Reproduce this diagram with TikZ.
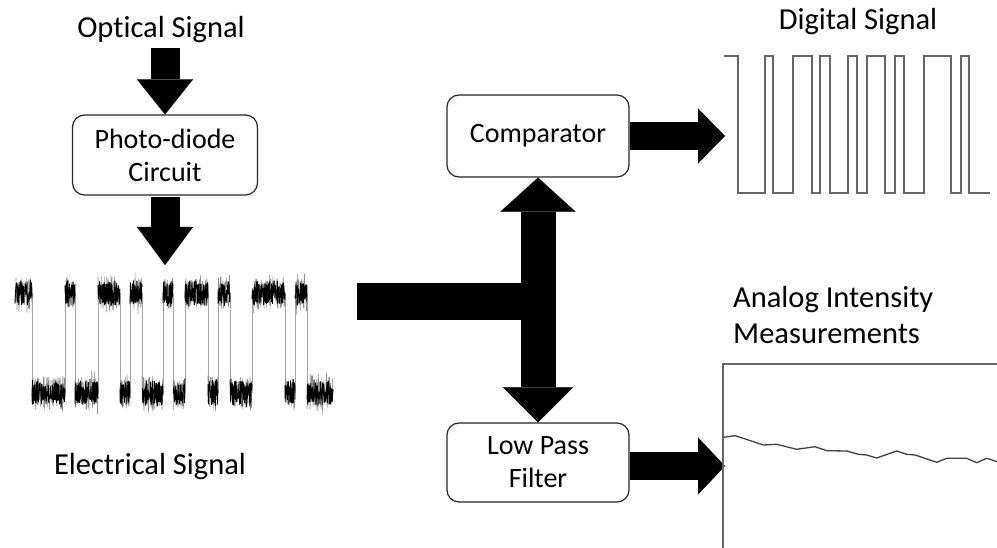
\documentclass[tikz,border=0pt]{standalone}
\usepackage{fontspec}
\setmainfont[Ligatures=NoCommon]{Carlito}
\usetikzlibrary{arrows.meta,calc}
\newcommand\noiseseg[3]{%
  \pgfmathtruncatemacro\nsamp{4*(#2-#1)+2}%
  \draw[noisyhalo] plot[domain=#1:#2,samples=\nsamp] (\x,{#3+16*rand+14*rand*rand*rand});
  \draw[noisy] plot[domain=#1:#2,samples=\nsamp] (\x,{#3+12*rand+6*rand*rand*rand});}
\begin{document}
\begin{tikzpicture}[x=1pt,y=-1pt,
  box/.style={draw=black!85,line width=1.2pt,rounded corners=12pt,fill=white,align=center,
    font=\fontsize{28}{33}\selectfont,inner sep=0pt},
  lbl/.style={font=\fontsize{30.5}{36}\selectfont,inner sep=0pt},
  barrow/.style n args={4}{draw=black,line width=#1,line cap=butt,
    -{Triangle[length=#2,width=#3,line width=0.1pt]}},
  noisy/.style={black,line width=0.9pt,line join=round},
  noisyhalo/.style={black!45,line width=0.6pt,line join=round},
  trans/.style={black!35,line width=1pt},
  digital/.style={black!60,line width=1.5pt},
  frame/.style={black!60,line width=1.5pt},
  analog/.style={black!75,line width=1.3pt,line join=round}]
\useasboundingbox (0,0) rectangle (997,548);
\pgfmathsetseed{11}

% labels
\node[lbl] (opt) at (161,30) {Optical Signal};
\node[lbl] (elab) at (150,467) {Electrical Signal};
\node[lbl] (dlab) at (858,22) {Digital Signal};
\node[lbl,anchor=west,align=left,font=\fontsize{30.5}{36}\selectfont] (alab) at (733,315) {Analog Intensity\\Measurements};

% boxes
\node[box,minimum width=185pt,minimum height=80pt] (pd) at (165,155) {Photo-diode\\Circuit};
\node[box,minimum width=182pt,minimum height=82pt] (comp) at (538,136) {Comparator};
\node[box,minimum width=182pt,minimum height=79pt] (lpf) at (538,462.5) {Low Pass\\Filter};

% helper coordinates
\coordinate (optbot) at (165,48);
\coordinate (pdout) at (165,197);
\coordinate (estop) at (165,265);
\coordinate (esout) at (357,301.5);
\coordinate (junc) at (537.5,301.5);
\coordinate (digin) at (725,136);
\coordinate (anain) at (725,466);

% block arrows
\draw[barrow={29pt}{35pt}{56pt}{}] (optbot) -- (pd.north);
\draw[barrow={29pt}{38pt}{56pt}{}] (pdout) -- (estop);
\draw[draw=black,line width=37pt,line cap=butt] (esout) -- (junc);
\draw[draw=black,line width=35pt,line cap=butt,
  {Triangle[length=34pt,width=75pt,line width=0.1pt]}-{Triangle[length=35pt,width=70pt,line width=0.1pt]}]
  (comp.south) -- (lpf.north);
\draw[barrow={28pt}{27pt}{55pt}{}] (comp.east) -- (digin);
\draw[barrow={28pt}{27pt}{57pt}{}] (lpf.east |- anain) -- (anain);

% electrical signal: transitions
\foreach \t in {32,65,75,98,120,130,142,163,173,185,208,218,230,252,285,295,307}
  \draw[trans] (\t,293) -- (\t,393);
% noisy plateaus
\noiseseg{15}{32}{293}
\noiseseg{32}{65}{393}
\noiseseg{65}{75}{293}
\noiseseg{75}{98}{393}
\noiseseg{98}{120}{293}
\noiseseg{120}{130}{393}
\noiseseg{130}{142}{293}
\noiseseg{142}{163}{393}
\noiseseg{163}{173}{293}
\noiseseg{173}{185}{393}
\noiseseg{185}{208}{293}
\noiseseg{208}{218}{393}
\noiseseg{218}{230}{293}
\noiseseg{230}{252}{393}
\noiseseg{252}{285}{293}
\noiseseg{285}{295}{393}
\noiseseg{295}{307}{293}
\noiseseg{307}{333}{393}

% digital signal
\draw[digital] (724,56) -| (738,193) -| (765,56) -| (773,193) -| (793,56) -| (812,193)
  -| (820,56) -| (830,193) -| (848,56) -| (857,193) -| (867,56) -| (885,193)
  -| (895,56) -| (904,193) -| (924,56) -| (951,193) -| (961,56) -| (969,193) -- (990,193);

% analog measurement plot
\draw[frame] (723,552) -- (723,364) -- (1000,364);
\draw[analog] (723.3,437.3) -- (735,435.7) -- (743.3,438.3) -- (763.3,445) -- (776.7,444.3)
  -- (796.7,449.3) -- (815,446.7) -- (826.7,450.7) -- (846.7,451) -- (858.3,454.3)
  -- (866.7,455) -- (876.7,458) -- (896.7,451) -- (906.7,454.3) -- (915,455)
  -- (936.7,462.3) -- (946.7,458.3) -- (966.7,458.3) -- (976.7,462.7) -- (986.7,458.3)
  -- (997,461.7);
\end{tikzpicture}
\end{document}
